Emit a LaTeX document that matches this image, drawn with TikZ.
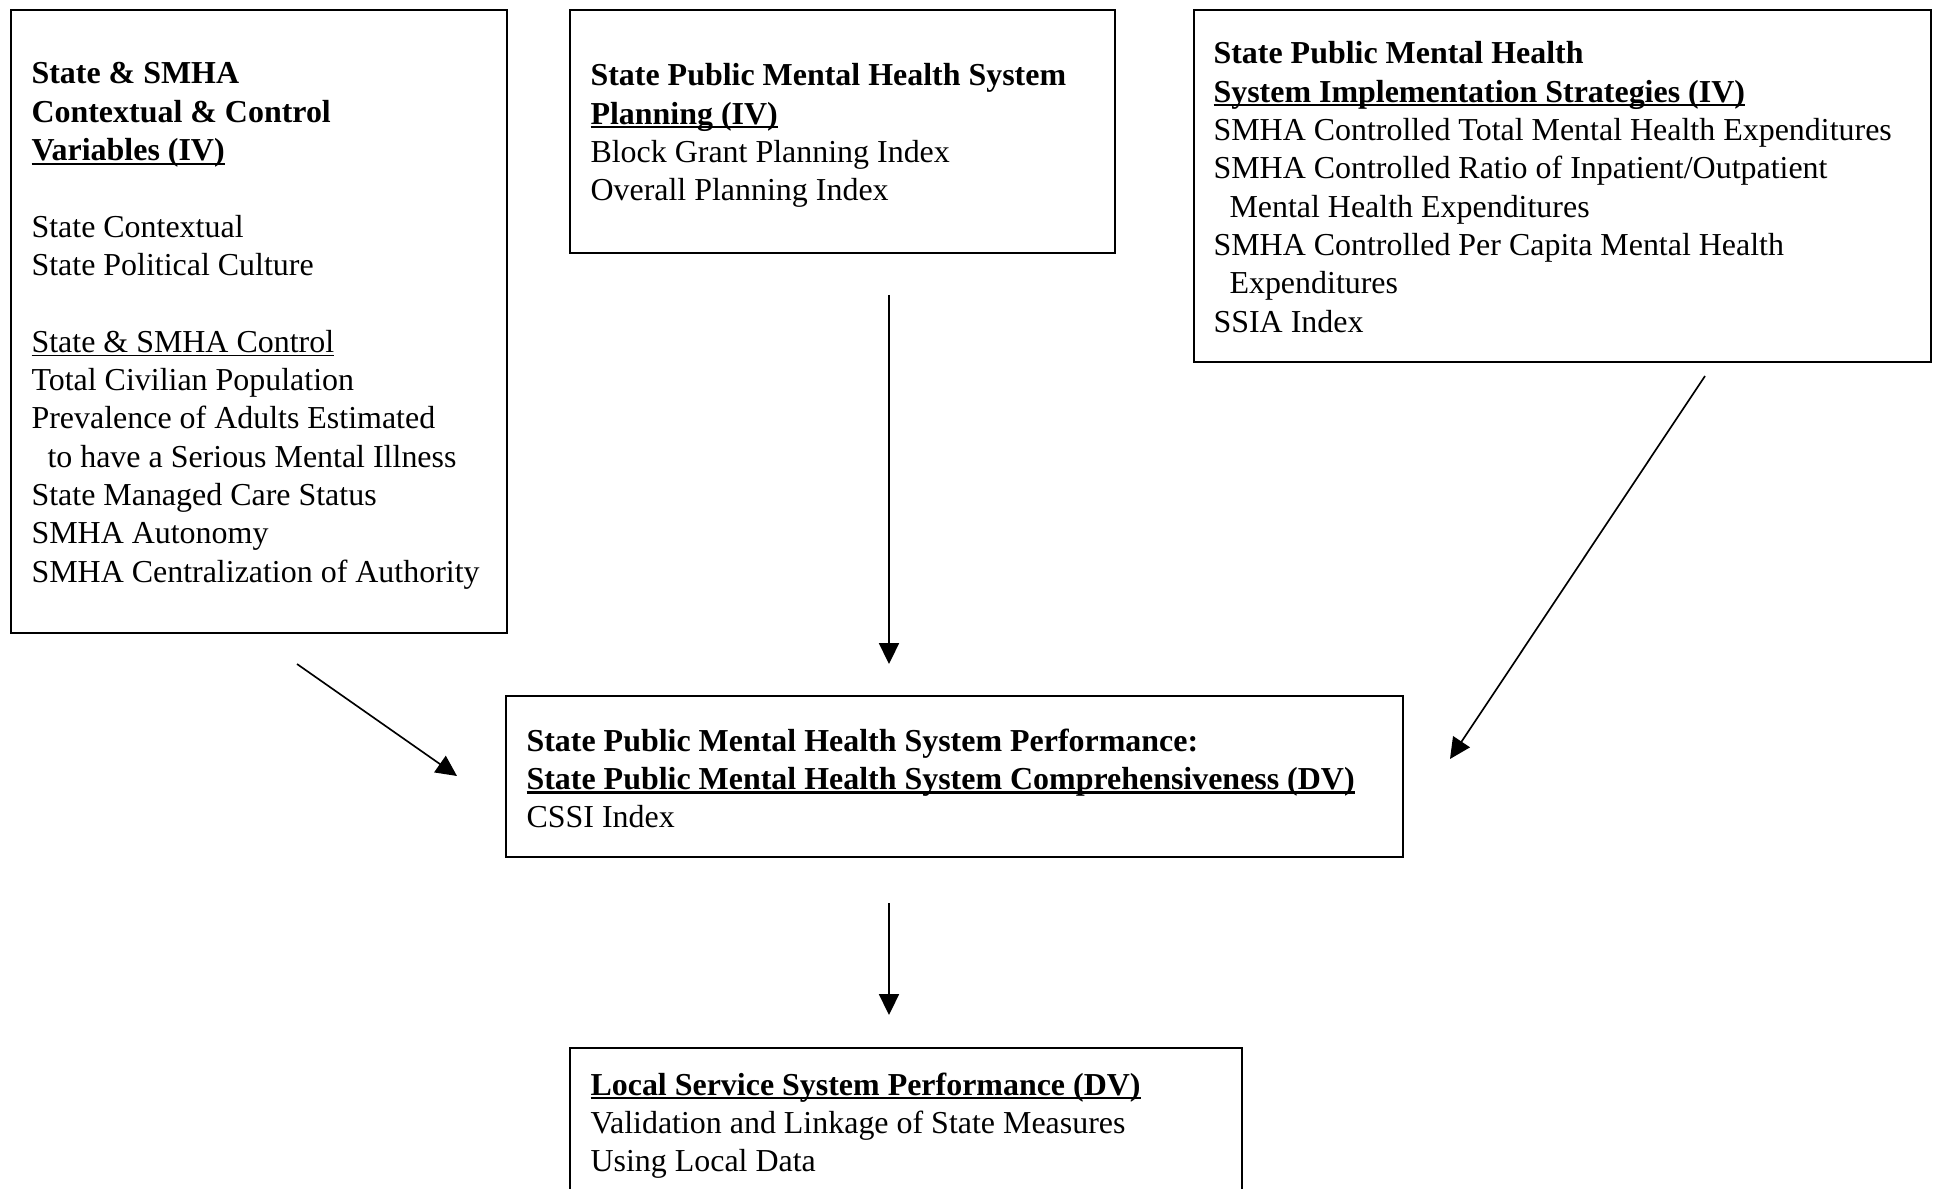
\documentclass[tikz,border=0pt]{standalone}
\usepackage{fontspec}
\setmainfont{Liberation Serif}
\usetikzlibrary{arrows.meta}

% underline drawn close to the baseline, as in the original
\newsavebox{\undlbox}
\newcommand{\undl}[2][0.45pt]{\sbox{\undlbox}{#2}\rlap{\rule[-1.5pt]{\wd\undlbox}{#1}}\usebox{\undlbox}}

\begin{document}
\begin{tikzpicture}[
    x=0.36pt,
    y=-0.36pt,
    frame/.style={draw, line width=0.8pt, anchor=north west, inner sep=0pt},
    body/.style={anchor=north west, align=left, inner sep=0pt, font=\fontsize{11.5pt}{13.8pt}\selectfont},
    flow/.style={-{Triangle[length=7.5pt, width=7.2pt]}, line width=0.6pt}
]
\useasboundingbox (0,0) rectangle (1937,1189);
\clip (0,0) rectangle (1937,1189);

% Boxes
\node[frame, minimum width=178.56pt, minimum height=224.28pt] (ctxbox) at (10,9) {};
\node[frame, minimum width=196.2pt, minimum height=87.48pt] (planbox) at (569,9) {};
\node[frame, minimum width=265.32pt, minimum height=126.72pt] (implbox) at (1193,9) {};
\node[frame, minimum width=322.92pt, minimum height=57.96pt] (perfbox) at (505,695) {};
\node[frame, minimum width=241.92pt, minimum height=80pt] (localbox) at (569,1047) {};

% Box texts
\node[body] (ctxtext) at (31,62) {\textbf{State \& SMHA}\\
    \textbf{Contextual \& Control}\\
    \undl[0.75pt]{\textbf{Variables (IV)}}\\[13.8pt]
    State Contextual\\
    State Political Culture\\[13.8pt]
    \undl{State \& SMHA Control}\\
    Total Civilian Population\\
    Prevalence of Adults Estimated\\
    \hspace*{0.5em}to have a Serious Mental Illness\\
    State Managed Care Status\\
    SMHA Autonomy\\
    SMHA Centralization of Authority};
\node[body] (plantext) at (590,63) {\textbf{State Public Mental Health System}\\
    \undl[0.75pt]{\textbf{Planning (IV)}}\\
    Block Grant Planning Index\\
    Overall Planning Index};
\node[body] (impltext) at (1213,41) {\textbf{State Public Mental Health}\\
    \undl[0.75pt]{\textbf{System Implementation Strategies (IV)}}\\
    SMHA Controlled Total Mental Health Expenditures\\
    SMHA Controlled Ratio of Inpatient/Outpatient\\
    \hspace*{0.5em}Mental Health Expenditures\\
    SMHA Controlled Per Capita Mental Health\\
    \hspace*{0.5em}Expenditures\\
    SSIA Index};
\node[body] (perftext) at (526,728) {\textbf{State Public Mental Health System Performance:}\\
    \undl[0.75pt]{\textbf{State Public Mental Health System Comprehensiveness (DV)}}\\
    CSSI Index};
\node[body] (localtext) at (590,1072) {\undl[0.75pt]{\textbf{Local Service System Performance (DV)}}\\
    Validation and Linkage of State Measures\\
    Using Local Data};

% Arrow ends
\coordinate (ctxtail) at (297,664);
\coordinate (ctxtip) at (457,776);
\coordinate (plantail) at (889,295);
\coordinate (plantip) at (889,664);
\coordinate (impltail) at (1705,376);
\coordinate (impltip) at (1450,759);
\coordinate (perftail) at (889,903);
\coordinate (perftip) at (889,1015);

% Arrows
\draw[flow] (ctxtail) -- (ctxtip);
\draw[flow] (plantail) -- (plantip);
\draw[flow] (impltail) -- (impltip);
\draw[flow] (perftail) -- (perftip);

\end{tikzpicture}
\end{document}
